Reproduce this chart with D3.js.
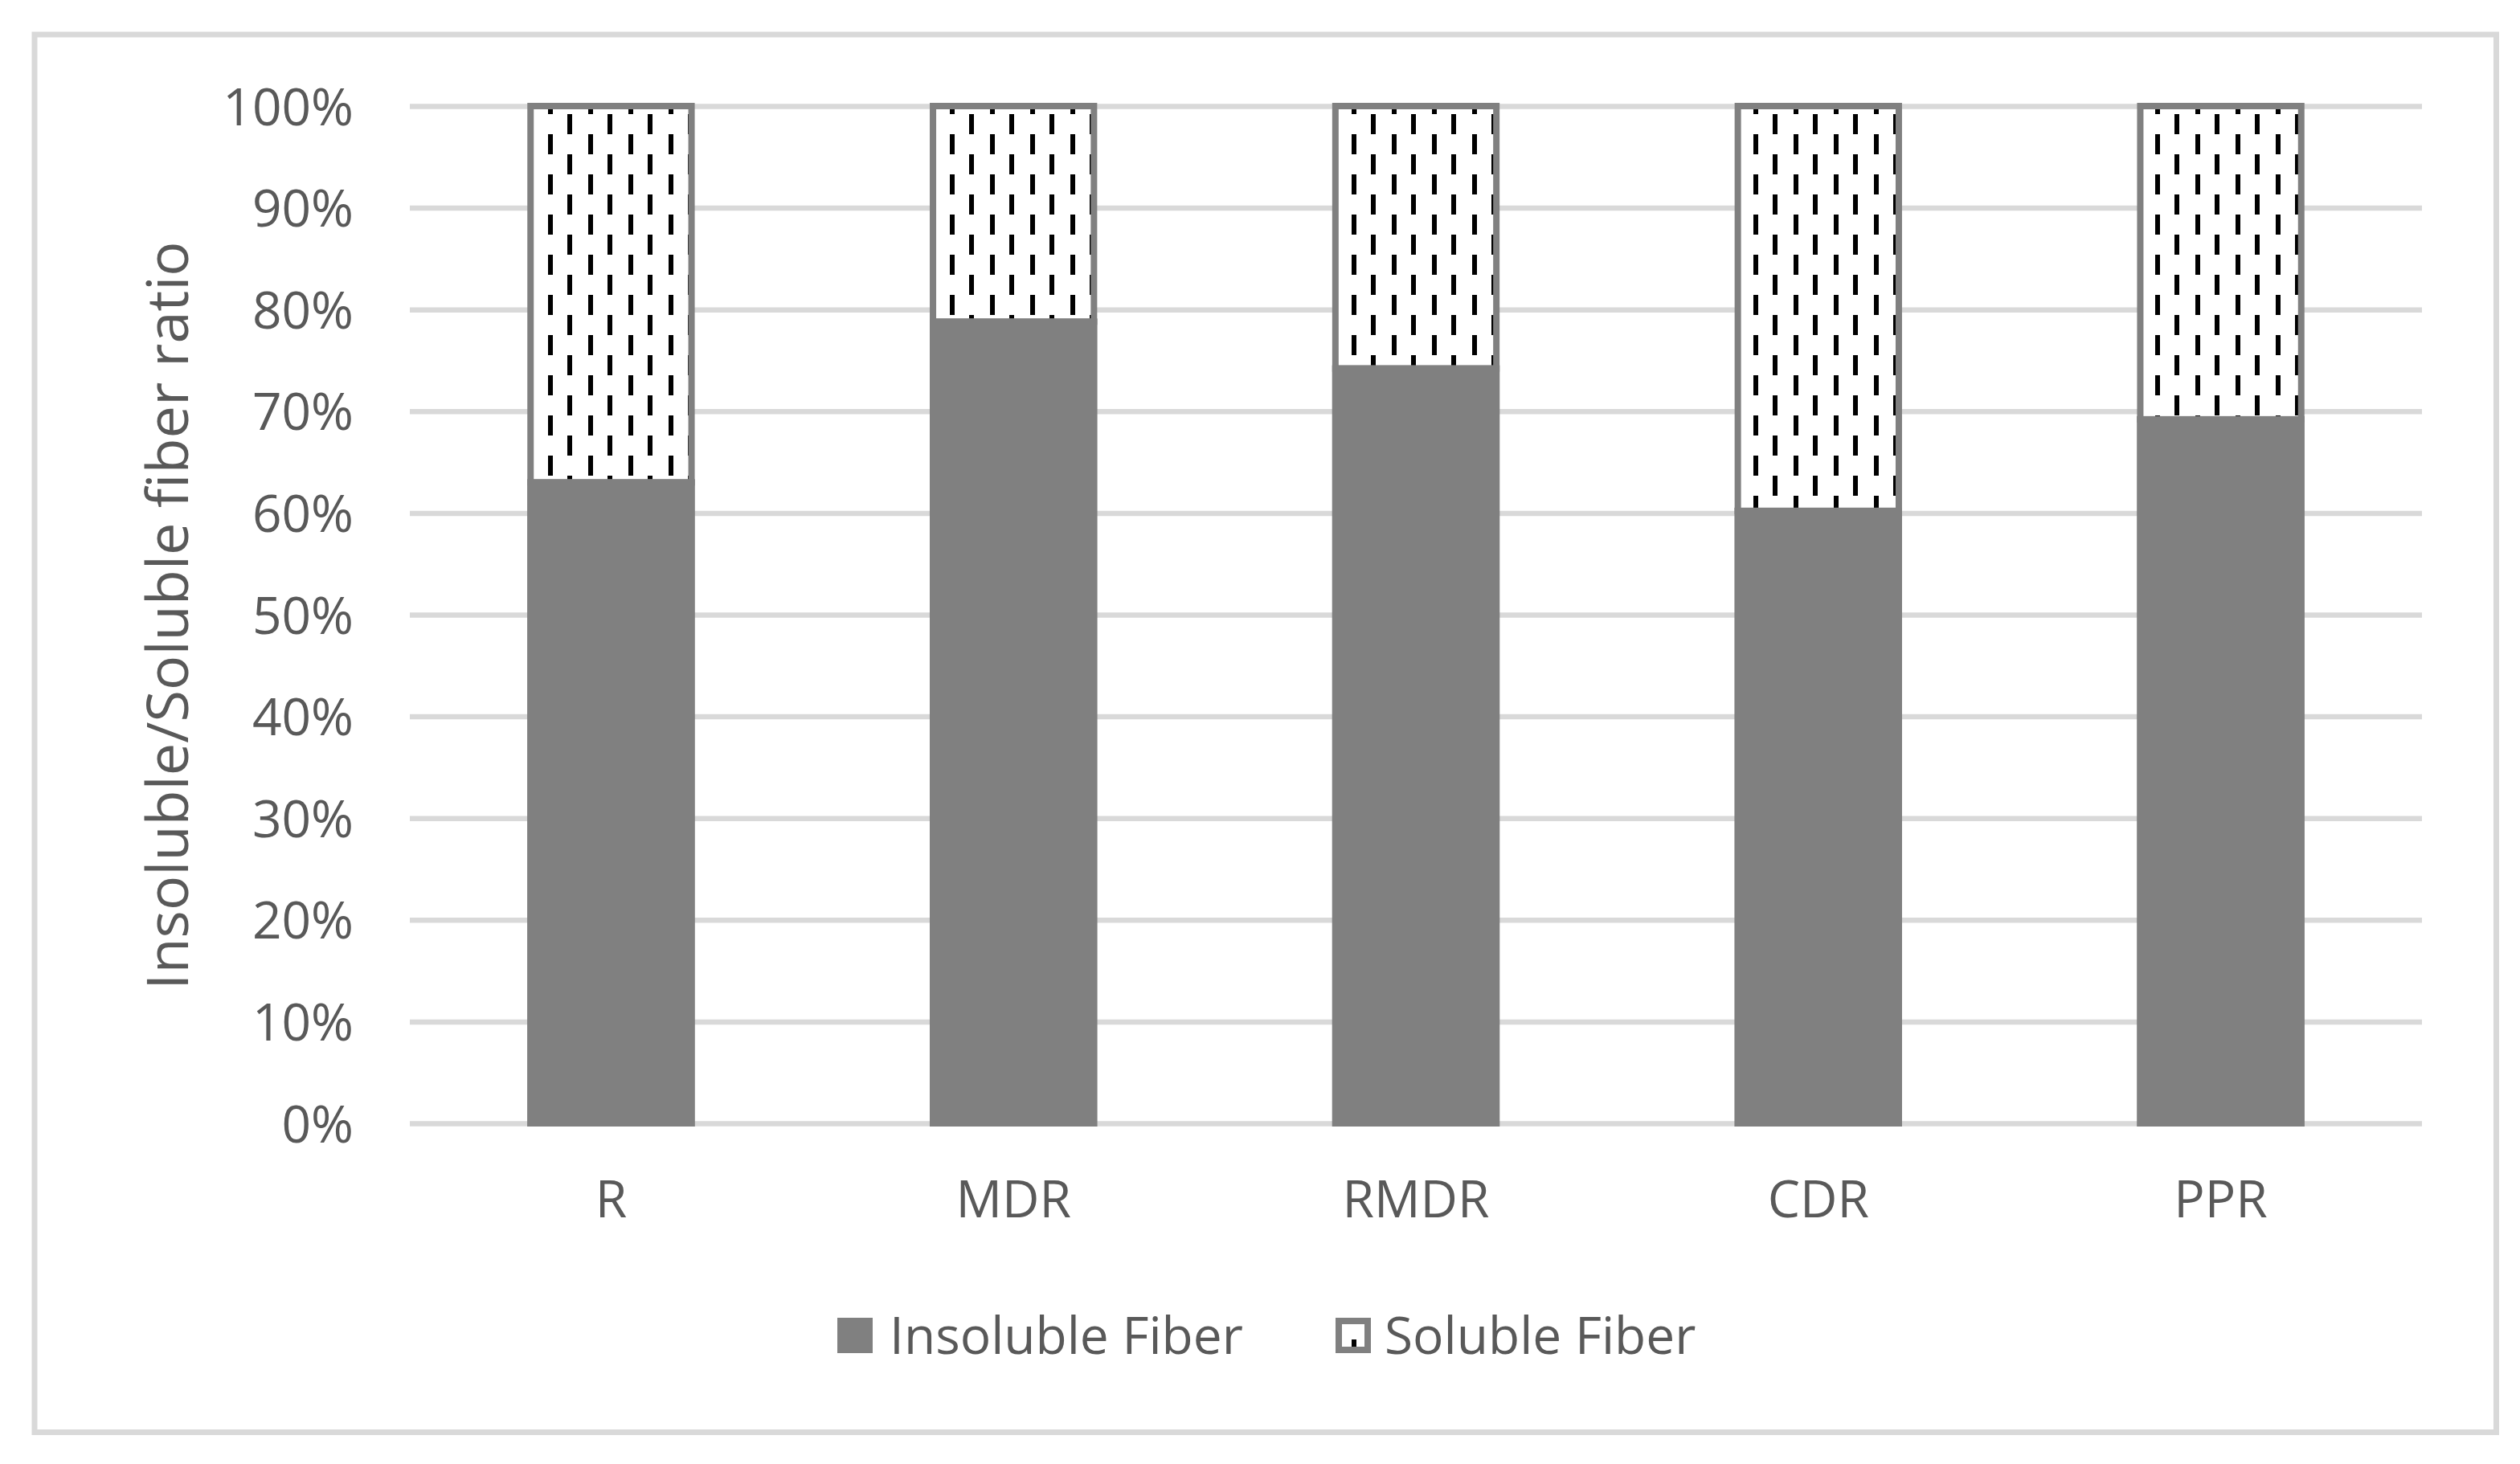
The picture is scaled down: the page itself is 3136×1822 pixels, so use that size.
<!DOCTYPE html>
<html>
<head>
<meta charset="utf-8">
<script src="https://cdn.jsdelivr.net/npm/d3@7"></script>
<style>
  html, body { margin: 0; padding: 0; background: #fff; }
  svg { display: block; }
  text { font-family: "Open Sans", "Noto Sans", sans-serif; fill: #595959; }
</style>
</head>
<body>
<svg id="chart" width="3136" height="1822"></svg>
<script>
// ---- data ----
const categories = ["R", "MDR", "RMDR", "CDR", "PPR"];
const insoluble = [0.630, 0.788, 0.742, 0.602, 0.692];
const soluble   = [0.370, 0.212, 0.258, 0.398, 0.308];
const seriesNames = ["Insoluble Fiber", "Soluble Fiber"];
const yTicks = [0, 0.1, 0.2, 0.3, 0.4, 0.5, 0.6, 0.7, 0.8, 0.9, 1.0];

// ---- layout ----
const W = 3136, H = 1822;
const plot = { left: 510, right: 3014, top: 132, bottom: 1398 };
const svg = d3.select("#chart");

const rows = categories.map((c, i) => ({ cat: c, ins: insoluble[i], sol: soluble[i] }));
const stack = d3.stack().keys(["ins", "sol"]);
const stacked = stack(rows);

const x = d3.scaleBand().domain(categories).range([plot.left, plot.right]).paddingInner(0.6).paddingOuter(0.3);
const y = d3.scaleLinear().domain([0, 1]).range([plot.bottom, plot.top]);

// pattern (dashed vertical)
const defs = svg.append("defs");
const pat = defs.append("pattern").attr("id", "dashVert")
  .attr("patternUnits", "userSpaceOnUse").attr("x", 0).attr("y", 0)
  .attr("width", 50).attr("height", 50);
pat.append("rect").attr("width", 50).attr("height", 50).attr("fill", "#fff");
pat.append("rect").attr("x", 32).attr("y", 17).attr("width", 6).attr("height", 25).attr("fill", "#000");
pat.append("rect").attr("x", 6).attr("y", 42).attr("width", 6).attr("height", 8).attr("fill", "#000");
pat.append("rect").attr("x", 6).attr("y", 0).attr("width", 6).attr("height", 17).attr("fill", "#000");

// background + chart border
svg.append("rect").attr("width", W).attr("height", H).attr("fill", "#fff");
svg.append("rect").attr("x", 43).attr("y", 43).attr("width", 3063.5).attr("height", 1739.5)
  .attr("fill", "none").attr("stroke", "#d9d9d9").attr("stroke-width", 7);

// y axis with gridlines
const yAxis = d3.axisLeft(y).tickValues(yTicks).tickFormat(d3.format(".0%"))
  .tickSize(-(plot.right - plot.left)).tickPadding(70);
const gy = svg.append("g").attr("transform", `translate(${plot.left},0)`).call(yAxis);
gy.select(".domain").remove();
gy.selectAll(".tick line").attr("stroke", "#d9d9d9").attr("stroke-width", 6.5);
gy.selectAll(".tick text").attr("font-size", 64).attr("fill", "#595959")
  .attr("font-family", "'Open Sans', sans-serif").attr("dy", "0.36em");

// bars
const fills = ["#808080", "url(#dashVert)"];
const gBars = svg.append("g");
stacked.forEach((layer, li) => {
  gBars.selectAll(null).data(layer).enter().append("rect")
    .attr("x", d => x(d.data.cat))
    .attr("width", x.bandwidth())
    .attr("y", d => y(d[1]))
    .attr("height", d => y(d[0]) - y(d[1]))
    .attr("fill", fills[li])
    .attr("stroke", "#808080")
    .attr("stroke-width", 8);
});
// redraw insoluble on top so its border covers the soluble bottom edge
gBars.selectAll(null).data(stacked[0]).enter().append("rect")
  .attr("x", d => x(d.data.cat))
  .attr("width", x.bandwidth())
  .attr("y", d => y(d[1]))
  .attr("height", d => y(d[0]) - y(d[1]))
  .attr("fill", "#808080").attr("stroke", "#808080").attr("stroke-width", 8);

// x axis labels
const xAxis = d3.axisBottom(x).tickSize(0).tickPadding(0);
const gx = svg.append("g").attr("transform", `translate(0,${plot.bottom})`).call(xAxis);
gx.select(".domain").remove();
gx.selectAll(".tick text").attr("font-size", 64).attr("fill", "#595959")
  .attr("font-family", "'Open Sans', sans-serif")
  .attr("y", 117).attr("dy", 0);

// y axis title
svg.append("text")
  .attr("transform", "translate(234,766) rotate(-90)")
  .attr("text-anchor", "middle")
  .attr("font-size", 72)
  .text("Insoluble/Soluble fiber ratio");

// legend
const legend = [
  { name: seriesNames[0], fill: "#808080", sx: 1042, tx: 1107 },
  { name: seriesNames[1], fill: "url(#dashVert)", sx: 1662, tx: 1723 }
];
const gl = svg.append("g");
legend.forEach(l => {
  gl.append("rect").attr("x", l.sx + 4).attr("y", 1640 + 4).attr("width", 36).attr("height", 36)
    .attr("fill", l.fill).attr("stroke", "#808080").attr("stroke-width", 8);
  gl.append("text").attr("x", l.tx).attr("y", 1685).attr("font-size", 64).text(l.name);
});
</script>
</body>
</html>
